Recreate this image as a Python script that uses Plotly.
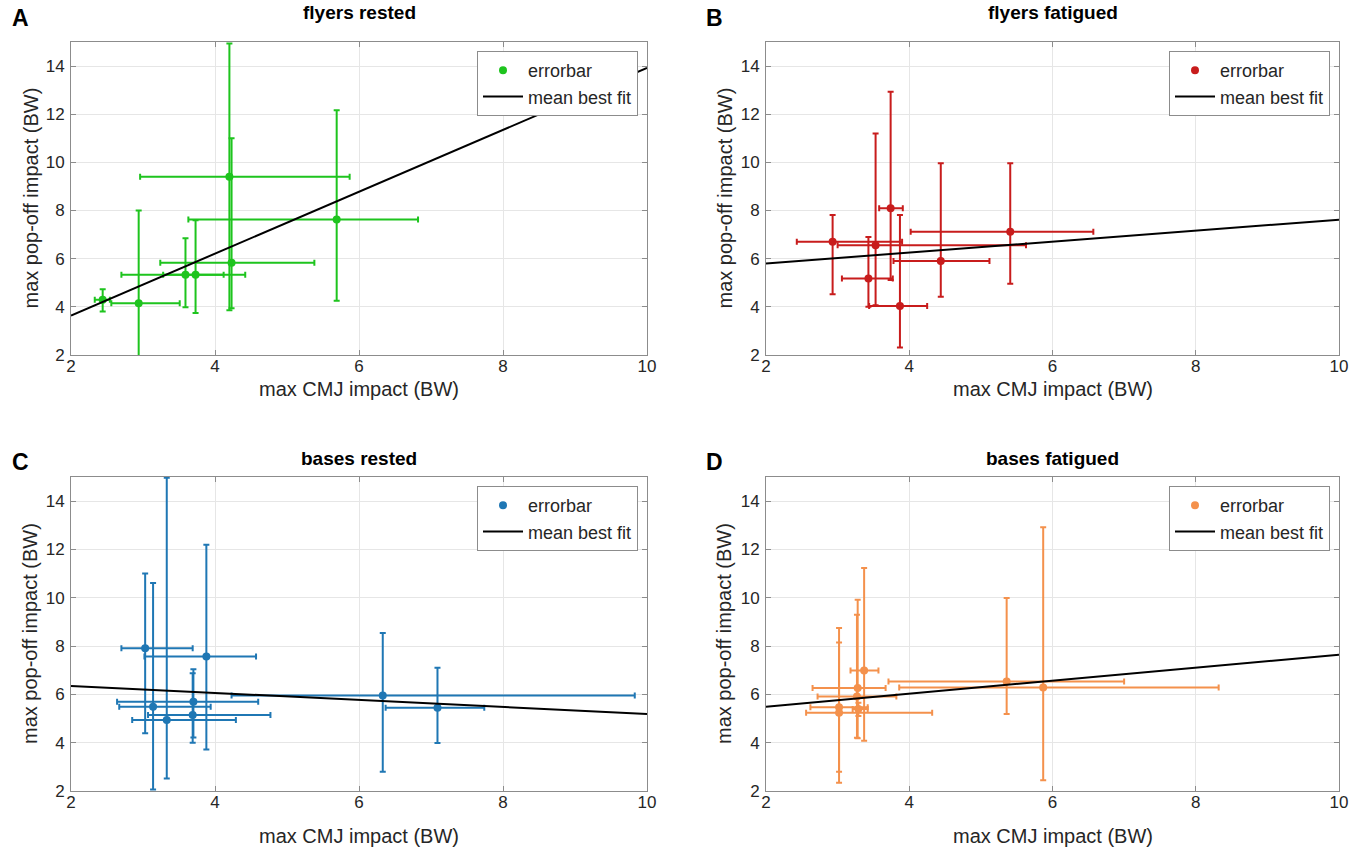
import plotly.graph_objects as go

# ---------------- data ----------------
# Panel A: flyers rested
a_x = [2.44, 2.94, 3.59, 3.73, 4.20, 4.23, 5.69]
a_y = [4.29, 4.15, 5.33, 5.33, 9.40, 5.83, 7.63]
a_x_lo = [2.33, 2.56, 2.70, 3.28, 2.96, 3.24, 3.63]
a_x_hi = [2.54, 3.51, 4.42, 4.12, 5.87, 5.38, 6.82]
a_y_lo = [3.81, 0.30, 3.98, 3.74, 3.86, 3.94, 4.25]
a_y_hi = [4.73, 8.00, 6.85, 7.60, 14.94, 11.00, 12.17]
a_fit_x = [2, 10]
a_fit_y = [3.64, 13.92]

# Panel B: flyers fatigued
b_x = [2.93, 3.43, 3.53, 3.74, 3.87, 4.44, 5.41]
b_y = [6.70, 5.18, 6.56, 8.09, 4.03, 5.90, 7.12]
b_x_lo = [2.43, 3.06, 3.00, 3.58, 3.44, 3.78, 4.02]
b_x_hi = [3.90, 3.77, 5.63, 3.91, 4.25, 5.12, 6.57]
b_y_lo = [4.52, 4.00, 4.07, 5.12, 2.31, 4.42, 4.96]
b_y_hi = [7.81, 6.90, 11.20, 12.93, 7.81, 9.96, 9.96]
b_fit_x = [2, 10]
b_fit_y = [5.80, 7.62]

# Panel C: bases rested
c_x = [3.03, 3.14, 3.33, 3.70, 3.69, 3.88, 6.33, 7.09]
c_y = [7.91, 5.49, 4.94, 5.70, 5.15, 7.57, 5.95, 5.45]
c_x_lo = [2.70, 2.67, 2.85, 2.64, 3.07, 3.02, 4.23, 6.37]
c_x_hi = [3.69, 3.94, 4.29, 4.60, 4.77, 4.57, 9.83, 7.74]
c_y_lo = [4.39, 2.06, 2.52, 4.22, 4.00, 3.72, 2.80, 3.99]
c_y_hi = [11.00, 10.61, 14.97, 7.04, 6.88, 12.20, 8.54, 7.10]
c_fit_x = [2, 10]
c_fit_y = [6.35, 5.19]

# Panel D: bases fatigued
d_x = [3.02, 3.02, 3.28, 3.37, 3.29, 3.27, 5.36, 5.87]
d_y = [5.24, 5.47, 6.26, 6.99, 5.39, 5.91, 6.53, 6.28]
d_x_lo = [2.56, 2.62, 2.65, 3.18, 3.21, 2.72, 3.71, 3.86]
d_x_hi = [4.32, 3.42, 3.67, 3.57, 3.42, 3.82, 7.00, 8.32]
d_y_lo = [2.34, 2.80, 4.18, 4.08, 5.10, 4.20, 5.19, 2.45]
d_y_hi = [8.75, 8.15, 9.92, 11.23, 5.65, 9.30, 9.99, 12.92]
d_fit_x = [2, 10]
d_fit_y = [5.49, 7.64]

titles = ["flyers rested", "flyers fatigued", "bases rested", "bases fatigued"]
letters = ["A", "B", "C", "D"]
colors = ["#1ec41e", "#c81c1c", "#1f77b4", "#f4914c"]
x_ticks = [2, 4, 6, 8, 10]
y_ticks = [2, 4, 6, 8, 10, 12, 14]
x_label = "max CMJ impact (BW)"
y_label = "max pop-off impact (BW)"

panels = [
    (a_x, a_y, a_x_lo, a_x_hi, a_y_lo, a_y_hi, a_fit_x, a_fit_y),
    (b_x, b_y, b_x_lo, b_x_hi, b_y_lo, b_y_hi, b_fit_x, b_fit_y),
    (c_x, c_y, c_x_lo, c_x_hi, c_y_lo, c_y_hi, c_fit_x, c_fit_y),
    (d_x, d_y, d_x_lo, d_x_hi, d_y_lo, d_y_hi, d_fit_x, d_fit_y),
]

# ---------------- layout geometry (pixels) ----------------
W, H = 1370, 859
xpix = [(71, 647), (766, 1339)]
ypix = [(42, 355), (477, 791)]          # top, bottom
title_y = [12, 458]
letter_y = [18, 462]
letter_x = [20, 714]
ylab_x = [30, 724]
xlab_y = [389, 836]
FONT = "Liberation Sans, Arial, sans-serif"

fig = go.Figure()
layout = {}
annotations = []

for i, (px, py, xlo, xhi, ylo, yhi, fx, fy) in enumerate(panels):
    r, c = divmod(i, 2)
    n = i + 1
    xa = "x" if n == 1 else f"x{n}"
    ya = "y" if n == 1 else f"y{n}"
    lg = "legend" if n == 1 else f"legend{n}"
    col = colors[i]
    x0, x1 = xpix[c]
    yt, yb = ypix[r]

    fig.add_trace(go.Scatter(
        x=px, y=py, mode="markers", name="errorbar",
        xaxis=xa, yaxis=ya, legend=lg,
        marker=dict(color=col, size=8),
        error_x=dict(type="data", symmetric=False,
                     array=[h - v for h, v in zip(xhi, px)],
                     arrayminus=[v - l for l, v in zip(xlo, px)],
                     color=col, thickness=2, width=3),
        error_y=dict(type="data", symmetric=False,
                     array=[h - v for h, v in zip(yhi, py)],
                     arrayminus=[v - l for l, v in zip(ylo, py)],
                     color=col, thickness=2, width=3),
    ))
    fig.add_trace(go.Scatter(
        x=fx, y=fy, mode="lines", name="mean best fit",
        xaxis=xa, yaxis=ya, legend=lg,
        line=dict(color="black", width=2),
    ))

    axcommon = dict(
        showgrid=True, gridcolor="#e6e6e6", gridwidth=1,
        showline=True, linecolor="#8c8c8c", linewidth=1, mirror="ticks",
        ticks="inside", ticklen=5, tickcolor="#8c8c8c",
        tickfont=dict(family=FONT, size=17, color="#262626"),
        zeroline=False, automargin=False,
    )
    layout["xaxis" if n == 1 else f"xaxis{n}"] = dict(
        axcommon, domain=[x0 / W, x1 / W], range=[2, 10], tickvals=x_ticks,
        anchor=ya, ticklabelstandoff=-4,
    )
    layout["yaxis" if n == 1 else f"yaxis{n}"] = dict(
        axcommon, domain=[1 - yb / H, 1 - yt / H], range=[2, 15], tickvals=y_ticks,
        anchor=xa, ticklabelstandoff=2,
    )
    layout[lg] = dict(
        x=(x1 - 9) / W, y=1 - (yt + 9) / H, xanchor="right", yanchor="top",
        bgcolor="white", bordercolor="#8c8c8c", borderwidth=1,
        font=dict(family=FONT, size=18, color="#262626"),
        tracegroupgap=0, itemwidth=40,
    )
    annotations.append(dict(
        text=f"<b>{titles[i]}</b>", x=(x0 + x1) / 2 / W, y=1 - title_y[r] / H,
        xref="paper", yref="paper", xanchor="center", yanchor="middle",
        showarrow=False, font=dict(family=FONT, size=19, color="black"),
    ))
    annotations.append(dict(
        text=f"<b>{letters[i]}</b>", x=letter_x[c] / W, y=1 - letter_y[r] / H,
        xref="paper", yref="paper", xanchor="center", yanchor="middle",
        showarrow=False, font=dict(family=FONT, size=23, color="black"),
    ))
    annotations.append(dict(
        text=x_label, x=(x0 + x1) / 2 / W, y=1 - xlab_y[r] / H,
        xref="paper", yref="paper", xanchor="center", yanchor="middle",
        showarrow=False, font=dict(family=FONT, size=20, color="#262626"),
    ))
    annotations.append(dict(
        text=y_label, x=ylab_x[c] / W, y=1 - (yt + yb) / 2 / H, textangle=-90,
        xref="paper", yref="paper", xanchor="center", yanchor="middle",
        showarrow=False, font=dict(family=FONT, size=20, color="#262626"),
    ))

fig.update_layout(
    width=W, height=H,
    margin=dict(l=0, r=0, t=0, b=0, autoexpand=False),
    plot_bgcolor="white", paper_bgcolor="white",
    annotations=annotations,
    **layout,
)

fig.write_html(
    "out.html",
    config={"displayModeBar": False},
    post_script="document.body.style.margin='0px';document.body.style.overflow='hidden';",
)
